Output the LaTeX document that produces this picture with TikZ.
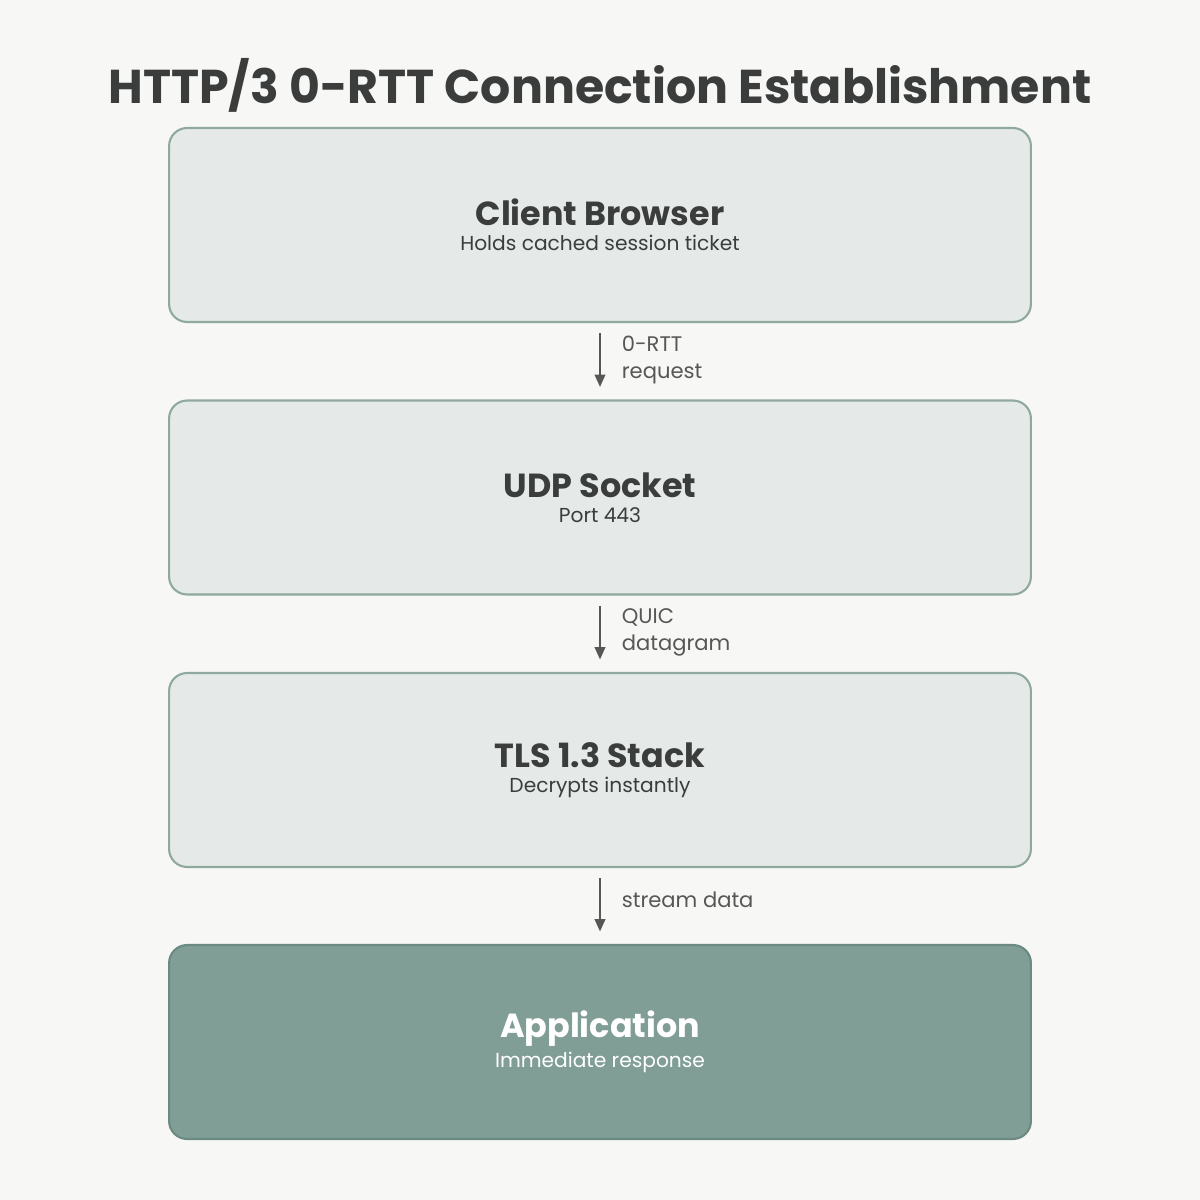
\documentclass[tikz,border=0pt]{standalone}
\usepackage{fontspec}
\setmainfont{Poppins}
\usetikzlibrary{arrows.meta}
\definecolor{bgcol}{HTML}{F7F7F5}
\definecolor{boxfill}{HTML}{E5EAE8}
\definecolor{boxedge}{HTML}{8FA9A0}
\definecolor{appfill}{HTML}{809E96}
\definecolor{appedge}{HTML}{6B8A80}
\definecolor{txt}{HTML}{3A3D3C}
\definecolor{arrcol}{HTML}{555857}
\tikzset{
  stage/.style={draw=boxedge, fill=boxfill, line width=1.2pt, rounded corners=0.36cm,
    minimum width=17.24cm, minimum height=3.88cm, align=center, text=txt},
  app/.style={stage, draw=appedge, fill=appfill, text=white},
  flow/.style={-{Triangle[length=7pt,width=6pt]}, arrcol, line width=1.1pt},
  flowlabel/.style={right, align=left, text=arrcol, font=\fontsize{12}{15}\selectfont}
}
\newcommand{\stagetext}[2]{{\fontsize{19}{24}\selectfont\bfseries #1}\\[2pt]{\fontsize{11.5}{14}\selectfont #2}}
\begin{document}
\begin{tikzpicture}[x=0.02cm, y=-0.02cm]
  % Background
  \fill[bgcol] (0,0) rectangle (1200,1200);
  \useasboundingbox (0,0) rectangle (1200,1200);

  % Title
  \node[text=txt, font=\fontsize{27}{32}\selectfont\bfseries] (title) at (600,85) {HTTP/3 0-RTT Connection Establishment};

  % Stages
  \node[stage] (client) at (600,225) {\stagetext{Client Browser}{Holds cached session ticket}};
  \node[stage] (udp) at (600,497.5) {\stagetext{UDP Socket}{Port 443}};
  \node[stage] (tls) at (600,770) {\stagetext{TLS 1.3 Stack}{Decrypts instantly}};
  \node[app] (appl) at (600,1042) {\stagetext{Application}{Immediate response}};

  % Connectors
  \draw[flow] ([yshift=-0.2cm]client.south) -- ([yshift=0.25cm]udp.north)
    node[flowlabel, midway, xshift=0.3cm] {0-RTT\\request};
  \draw[flow] ([yshift=-0.2cm]udp.south) -- ([yshift=0.25cm]tls.north)
    node[flowlabel, midway, xshift=0.3cm] {QUIC\\datagram};
  \draw[flow] ([yshift=-0.2cm]tls.south) -- ([yshift=0.25cm]appl.north)
    node[flowlabel, midway, xshift=0.3cm, yshift=0.1cm] {stream data};
\end{tikzpicture}
\end{document}
